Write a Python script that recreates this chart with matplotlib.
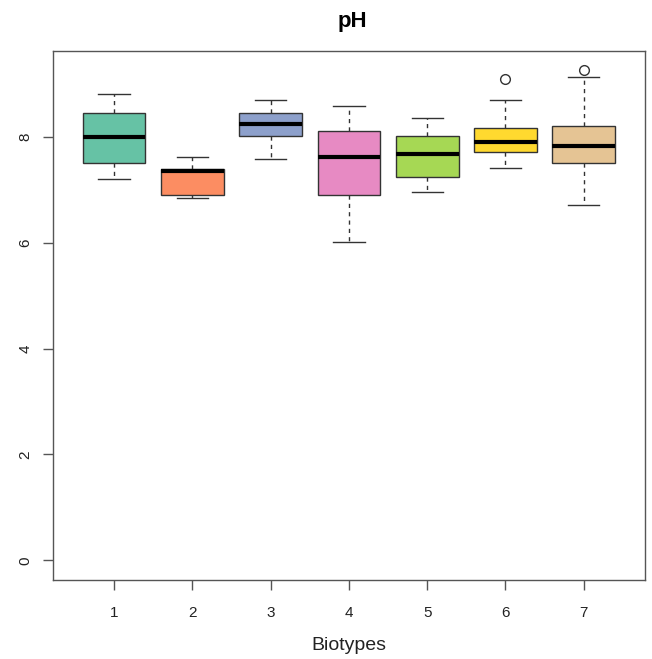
import matplotlib
matplotlib.use("Agg")
import matplotlib.pyplot as plt

biotypes = ["1", "2", "3", "4", "5", "6", "7"]
whisker_low = [7.20, 6.84, 7.58, 6.01, 6.95, 7.41, 6.72]
q1 = [7.51, 6.91, 8.01, 6.91, 7.24, 7.72, 7.50]
medians = [8.00, 7.36, 8.25, 7.62, 7.68, 7.91, 7.83]
q3 = [8.44, 7.40, 8.44, 8.11, 8.01, 8.16, 8.20]
whisker_high = [8.80, 7.62, 8.69, 8.59, 8.35, 8.69, 9.12]
outliers = [[], [], [], [], [], [9.09], [9.27]]
colors = ["#66C2A5", "#FC8D62", "#8DA0CB", "#E78AC3", "#A6D854", "#FFD92F", "#E5C494"]

stats = []
for i, name in enumerate(biotypes):
    stats.append({
        "label": name,
        "whislo": whisker_low[i],
        "q1": q1[i],
        "med": medians[i],
        "q3": q3[i],
        "whishi": whisker_high[i],
        "fliers": outliers[i],
    })

plt.rcParams["font.family"] = ["Liberation Sans", "DejaVu Sans"]

fig = plt.figure(figsize=(6.52, 6.59), dpi=100)
ax = fig.add_axes([0.0813, 0.1199, 0.9077, 0.8027])

bp = ax.bxp(stats, positions=range(1, 8), widths=0.8, patch_artist=True,
            capwidths=0.4,
            boxprops=dict(edgecolor="#333333", linewidth=1.0),
            medianprops=dict(color="black", linewidth=3, solid_capstyle="butt"),
            whiskerprops=dict(color="#333333", linestyle=(0, (3, 3)), linewidth=1.0),
            capprops=dict(color="#333333", linewidth=1.0),
            flierprops=dict(marker="o", markerfacecolor="none", markeredgecolor="#333333",
                            markersize=7, markeredgewidth=1.0))
for patch, c in zip(bp["boxes"], colors):
    patch.set_facecolor(c)

ax.set_xlim(0.22, 7.78)
ax.set_ylim(-0.37, 9.62)
ax.set_yticks([0, 2, 4, 6, 8])
ax.set_xticks(range(1, 8))
ax.set_xticklabels(biotypes)
for s in ax.spines.values():
    s.set_color("#555555")
    s.set_linewidth(1.0)
ax.tick_params(axis="both", length=7, width=1, color="#555555", labelsize=11, labelcolor="#222222")
ax.tick_params(axis="x", pad=12)
ax.tick_params(axis="y", pad=8)
for lab in ax.get_yticklabels():
    lab.set_rotation(90)
    lab.set_va("center")

ax.set_xlabel("Biotypes", fontsize=14, labelpad=12, color="#222222")
fig.text(0.541, 0.967, "pH", ha="center", va="center", fontsize=16, fontweight="bold")

fig.savefig("out.png", dpi=100)
